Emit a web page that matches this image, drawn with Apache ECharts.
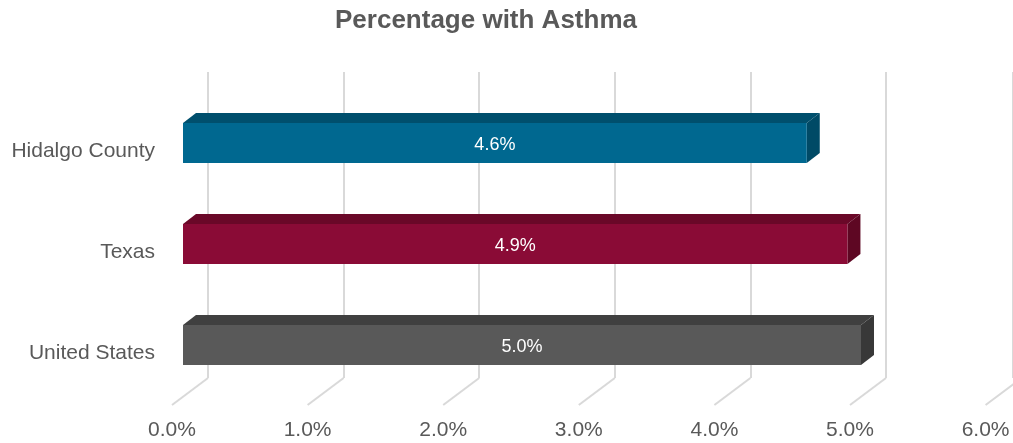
<!DOCTYPE html>
<html><head><meta charset="utf-8">
<script src="https://cdn.jsdelivr.net/npm/echarts@6/dist/echarts.min.js"></script>
<style>html,body{margin:0;padding:0;background:#fff}#c{width:1013px;height:443px}</style>
</head><body><div id="c"></div>
<script>
var categories = ['Hidalgo County', 'Texas', 'United States'];
var values = [4.6, 4.9, 5.0];
var tickValues = [0, 1, 2, 3, 4, 5, 6];
var tickLabels = ['0.0%', '1.0%', '2.0%', '3.0%', '4.0%', '5.0%', '6.0%'];
var title = 'Percentage with Asthma';

var faceColors = ['#006890', '#8a0b36', '#595959'];
var topColors = ['#004f6d', '#6a0828', '#404040'];
var sideColors = ['#004a66', '#5e0723', '#383838'];
var DX = 13, DY = -10, BAR_H = 40;

var chart = echarts.init(document.getElementById('c'), null, {renderer: 'canvas'});
var font = '"Liberation Sans", Arial, sans-serif';

function barItem(params, api) {
  var v = api.value(0), cat = api.value(1);
  var p0 = api.coord([0, cat]), p1 = api.coord([v, cat]);
  var yT = p0[1] - BAR_H / 2, yB = p0[1] + BAR_H / 2;
  var x0 = p0[0], x1 = p1[0];
  var i = params.dataIndex;
  return {
    type: 'group',
    children: [
      {type: 'polygon', shape: {points: [[x0, yT], [x0 + DX, yT + DY], [x1 + DX, yT + DY], [x1, yT]]}, style: {fill: topColors[i]}},
      {type: 'polygon', shape: {points: [[x1, yT], [x1 + DX, yT + DY], [x1 + DX, yB + DY], [x1, yB]]}, style: {fill: sideColors[i]}},
      {type: 'rect', shape: {x: x0, y: yT, width: x1 - x0, height: BAR_H}, style: {fill: faceColors[i]}},
      {type: 'text', x: (x0 + x1) / 2, y: p0[1] + 2, style: {text: v.toFixed(1) + '%', fill: '#ffffff', font: '18px ' + font, align: 'center', verticalAlign: 'middle'}}
    ]
  };
}

function floorItem(params, api) {
  var v = api.value(0);
  var p = api.coord([v, 0]);
  return {
    type: 'line',
    shape: {x1: p[0], y1: p[1], x2: p[0] - 36, y2: p[1] + 27},
    style: {stroke: '#d9d9d9', lineWidth: 2}
  };
}

var option = {
  backgroundColor: '#ffffff',
  animation: false,
  title: {text: title, left: 330, top: 3, textStyle: {fontFamily: font, fontSize: 26, fontWeight: 'bold', color: '#595959'}},
  grid: [
    {left: 183, right: 16.4, top: 92.5, height: 303},
    {left: 208, right: 0, top: 72, height: 306},
    {left: 172, right: 27.4, top: 100, height: 316},
    {left: 183, right: 16.4, top: 100.5, height: 303}
  ],
  xAxis: [
    {gridIndex: 0, type: 'value', min: 0, max: 6, interval: 1, show: false},
    {gridIndex: 1, type: 'value', min: 0, max: 5.9366, interval: 1, axisLine: {show: false}, axisTick: {show: false}, axisLabel: {show: false},
     splitLine: {show: true, lineStyle: {color: '#d9d9d9', width: 2}}},
    {gridIndex: 2, type: 'value', min: 0, max: 6, interval: 1, axisLine: {show: false}, axisTick: {show: false}, splitLine: {show: false},
     axisLabel: {show: true, margin: 4, color: '#595959', fontFamily: font, fontSize: 21, formatter: function (v) { return tickLabels[tickValues.indexOf(v)]; }}},
    {gridIndex: 3, type: 'value', min: 0, max: 6, show: false}
  ],
  yAxis: [
    {gridIndex: 0, type: 'category', data: categories, inverse: true, show: false},
    {gridIndex: 1, type: 'value', min: 0, max: 1, show: false},
    {gridIndex: 2, type: 'value', min: 0, max: 1, show: false},
    {gridIndex: 3, type: 'category', data: categories, inverse: true, axisLine: {show: false}, axisTick: {show: false},
     axisLabel: {margin: 28, color: '#595959', fontFamily: font, fontSize: 21}}
  ],
  series: [
    {type: 'custom', xAxisIndex: 1, yAxisIndex: 1, renderItem: floorItem, data: tickValues.map(function (t) { return [t]; }), encode: {x: 0}, z: 1, silent: true, clip: false},
    {type: 'custom', xAxisIndex: 0, yAxisIndex: 0, renderItem: barItem,
     data: values.map(function (v, i) { return [v, i]; }), encode: {x: 0, y: 1}, z: 5}
  ]
};
chart.setOption(option);
</script>
</body></html>
